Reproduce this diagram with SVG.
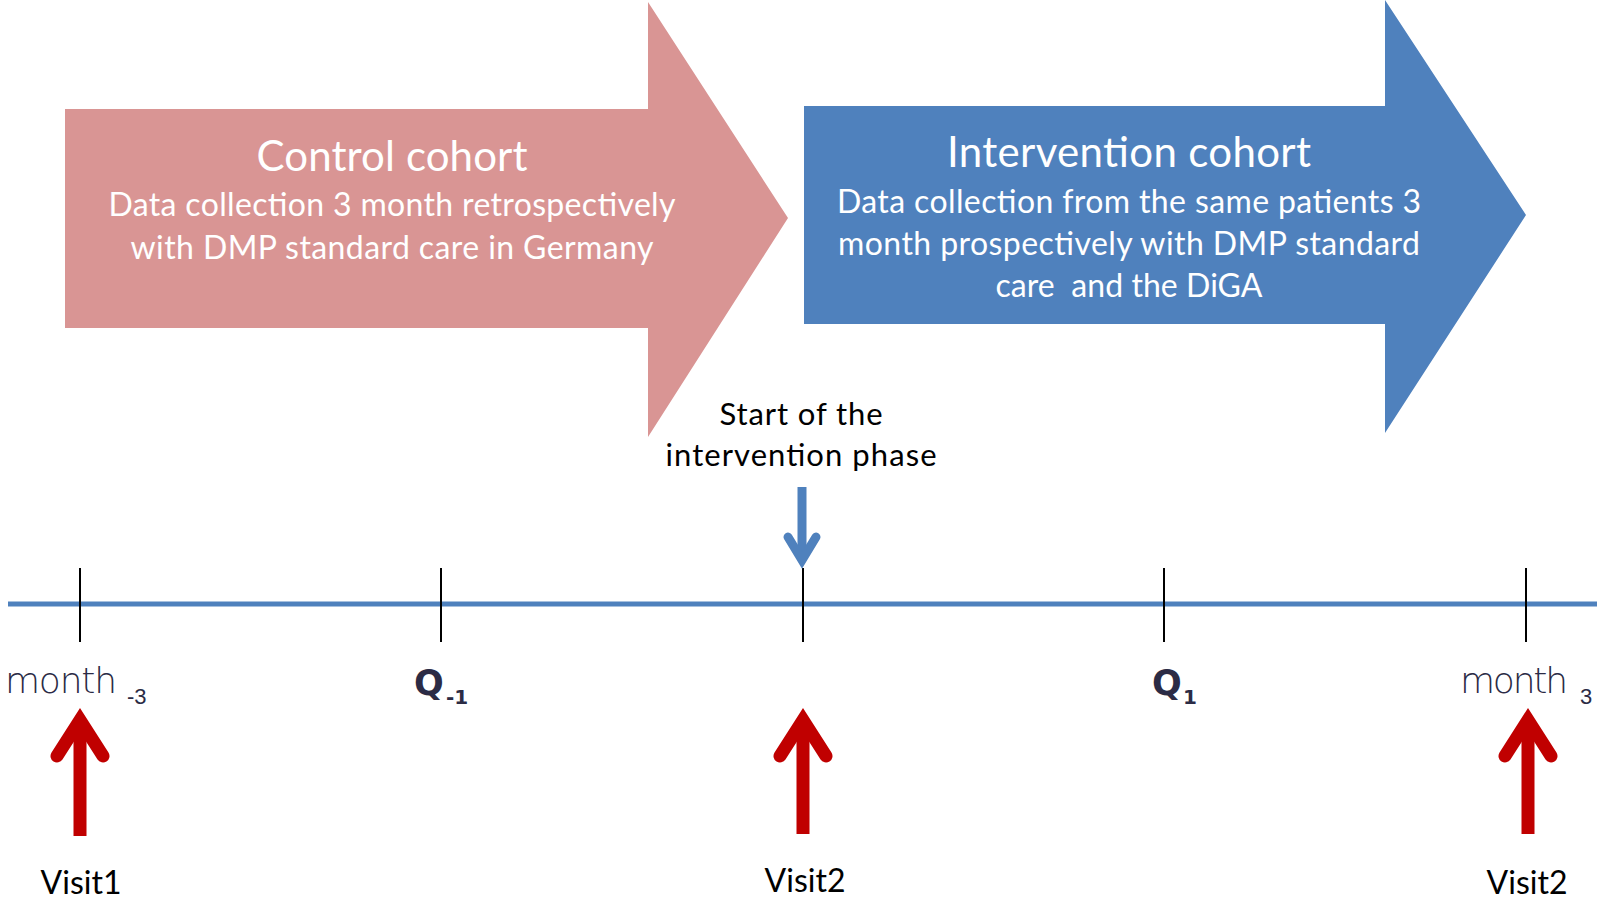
<svg xmlns="http://www.w3.org/2000/svg" width="1597" height="899" viewBox="0 0 1597 899">
  <defs>
    <style>
      .cohort-title { font-family: Lato, "Liberation Sans", sans-serif; font-size: 42px; fill: #ffffff; text-anchor: middle; }
      .cohort-body { font-family: Lato, "Liberation Sans", sans-serif; font-size: 32px; fill: #ffffff; text-anchor: middle; }
      .note { font-family: Lato, "Liberation Sans", sans-serif; font-size: 31px; fill: #000000; text-anchor: middle; }
      .visit { font-family: Lato, "Liberation Sans", sans-serif; font-size: 32px; fill: #000000; text-anchor: middle; }
      .month { font-family: "DejaVu Sans", "Liberation Sans", sans-serif; font-size: 36px; font-weight: 200; fill: #2b2b45; }
      .month-sub { font-family: "Liberation Sans", sans-serif; font-size: 22px; fill: #2b2b45; }
      .q { font-family: "DejaVu Sans", "Liberation Sans", sans-serif; font-size: 35px; font-weight: bold; fill: #2b2b45; }
      .q-sub { font-family: "DejaVu Sans", "Liberation Sans", sans-serif; font-size: 20px; font-weight: bold; fill: #2b2b45; }
      .tick { stroke: #000000; stroke-width: 2; }
      .visit-arrow { fill: none; stroke: #c00000; stroke-width: 13; stroke-linecap: round; stroke-linejoin: miter; }
      .visit-shaft { fill: none; stroke: #c00000; stroke-width: 13; }
    </style>
  </defs>

  <rect width="1597" height="899" fill="#ffffff"/>

  <!-- Control cohort block arrow -->
  <g id="control-cohort">
    <polygon points="65,109 648,109 648,2 788,218 648,437 648,328 65,328" fill="#d99594"/>
    <text class="cohort-title" x="392" y="171" textLength="271">Control cohort</text>
    <text class="cohort-body" x="392" y="216" textLength="567">Data collection 3 month retrospectively</text>
    <text class="cohort-body" x="392" y="259" textLength="523">with DMP standard care in Germany</text>
  </g>

  <!-- Intervention cohort block arrow -->
  <g id="intervention-cohort">
    <polygon points="804,106 1385,106 1385,0 1526,215 1385,433 1385,324 804,324" fill="#4f81bd"/>
    <text class="cohort-title" x="1129" y="167" textLength="364">Intervention cohort</text>
    <text class="cohort-body" x="1129" y="213" textLength="584">Data collection from the same patients 3</text>
    <text class="cohort-body" x="1129" y="255" textLength="582">month prospectively with DMP standard</text>
    <text class="cohort-body" x="1129" y="297" textLength="267" xml:space="preserve">care  and the DiGA</text>
  </g>

  <!-- Start marker -->
  <g id="start-intervention">
    <text class="note" x="801" y="425" textLength="163">Start of the</text>
    <text class="note" x="801" y="466" textLength="271">intervention phase</text>
  </g>

  <!-- Timeline and connectors -->
  <g id="connectors">
    <line x1="8" y1="604" x2="1597" y2="604" stroke="#4f81bd" stroke-width="5"/>
    <line class="tick" x1="80" y1="568" x2="80" y2="642"/>
    <line class="tick" x1="441" y1="568" x2="441" y2="642"/>
    <line class="tick" x1="803" y1="568" x2="803" y2="642"/>
    <line class="tick" x1="1164" y1="568" x2="1164" y2="642"/>
    <line class="tick" x1="1526" y1="568" x2="1526" y2="642"/>

    <!-- start-of-intervention pointer -->
    <line x1="802" y1="487" x2="802" y2="560" stroke="#4f81bd" stroke-width="9"/>
    <polyline points="788,537 802,560 816,537" fill="none" stroke="#4f81bd" stroke-width="9" stroke-linecap="round" stroke-linejoin="miter"/>

    <!-- visit arrows -->
    <line class="visit-shaft" x1="80" y1="836" x2="80" y2="722"/>
    <polyline class="visit-arrow" points="57,756 80,720 103,756"/>
    <line class="visit-shaft" x1="803" y1="834" x2="803" y2="722"/>
    <polyline class="visit-arrow" points="780,756 803,720 826,756"/>
    <line class="visit-shaft" x1="1528" y1="834" x2="1528" y2="722"/>
    <polyline class="visit-arrow" points="1505,756 1528,720 1551,756"/>
  </g>

  <!-- Timeline labels -->
  <g id="month-minus-3">
    <text class="month" x="5" y="693" textLength="112">month</text>
    <text class="month-sub" x="127" y="704">-3</text>
  </g>
  <g id="q-minus-1">
    <text class="q" x="414" y="695">Q</text>
    <text class="q-sub" x="446" y="704">-1</text>
  </g>
  <g id="q-1">
    <text class="q" x="1152" y="695">Q</text>
    <text class="q-sub" x="1183" y="704">1</text>
  </g>
  <g id="month-3">
    <text class="month" x="1460" y="693" textLength="108">month</text>
    <text class="month-sub" x="1580" y="704">3</text>
  </g>

  <g id="visit1">
    <text class="visit" x="81" y="894">Visit1</text>
  </g>
  <g id="visit2-mid">
    <text class="visit" x="805" y="892">Visit2</text>
  </g>
  <g id="visit2-end">
    <text class="visit" x="1527" y="894">Visit2</text>
  </g>
</svg>
